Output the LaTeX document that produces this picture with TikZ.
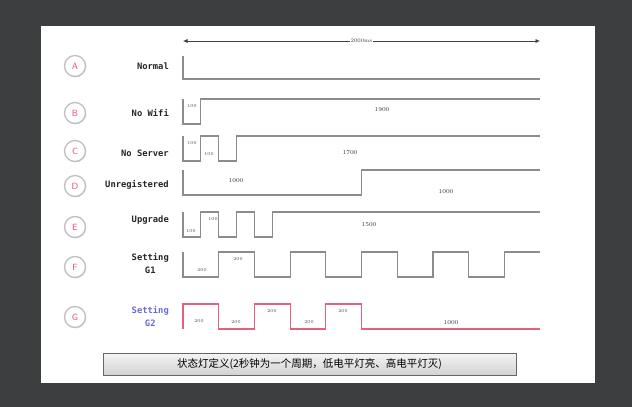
\documentclass[tikz,border=0pt]{standalone}
\usepackage{fontspec}
\newfontfamily\cjk{Noto Sans CJK SC}
\newfontfamily\lblfont{DejaVu Sans Mono}
\usetikzlibrary{arrows.meta,shadows}
\definecolor{panelbg}{HTML}{3C3E40}
\definecolor{wavegray}{HTML}{8C8C8C}
\definecolor{wavered}{HTML}{E2627E}
\definecolor{badgered}{HTML}{E0506E}
\definecolor{lblblue}{HTML}{6A6ADC}

\begin{document}
\begin{tikzpicture}[x=1pt, y=-1pt,
  badge/.style={circle, draw=gray!50, fill=white, line width=1.3pt,
    minimum size=21pt, inner sep=0pt, text=badgered, font=\sffamily\small,
    drop shadow={opacity=0.25, shadow xshift=0.8pt, shadow yshift=-0.8pt}},
  lbl/.style={anchor=east, align=center, inner sep=0pt, text=black!85,
    font=\lblfont\bfseries\fontsize{8.8}{13}\selectfont},
  wave/.style={draw=wavegray, line width=1.2pt},
  ms/.style={font=\fontsize{4.5}{5}\selectfont, inner sep=0pt, text=black!70},
  dur/.style={font=\fontsize{6}{7}\selectfont, inner sep=0pt, text=black!80}]
  \useasboundingbox (0,0) rectangle (632,407);
  \fill[panelbg] (0,0) rectangle (632,407);
  \fill[white] (41,26) rectangle (595,383);

  % one period
  \coordinate (t0) at (183,41);
  \coordinate (t1) at (540,41);
  \draw[{Latex[length=4.5pt,width=4pt]}-{Latex[length=4.5pt,width=4pt]},
    line width=0.7pt, black!75] (t0) --
    node[fill=white, inner xsep=1pt, font=\fontsize{5.5}{6}\selectfont]{2000ms} (t1);

  % states
  \node[badge] (cA) at (75,66) {A};
  \node[badge] (cB) at (75,113) {B};
  \node[badge] (cC) at (75,151) {C};
  \node[badge] (cD) at (75,186) {D};
  \node[badge] (cE) at (75,227) {E};
  \node[badge] (cF) at (75,267) {F};
  \node[badge] (cG) at (75,317) {G};

  \node[lbl] (nA) at (169,66) {Normal};
  \node[lbl] (nB) at (169,113) {No Wifi};
  \node[lbl] (nC) at (169,153) {No Server};
  \node[lbl] (nD) at (169,185) {Unregistered};
  \node[lbl] (nE) at (169,220) {Upgrade};
  \node[lbl] (nF) at (169,263.5) {Setting\\G1};
  \node[lbl, text=lblblue] (nG) at (169,316) {Setting\\G2};

  % waveforms, x in ms
  \begin{scope}[xshift=183pt, x=0.1785pt]
    \draw[wave] (0,56) -- (0,79) -- (2000,79);
    \draw[wave] (0,99) |- (100,124) |- (2000,99);
    \draw[wave] (0,136) |- (100,161) |- (200,136) |- (300,161) |- (2000,136);
    \draw[wave] (0,170) |- (1000,195) |- (2000,170);
    \draw[wave] (0,212) |- (100,237) |- (200,212) |- (300,237) |- (400,212)
      |- (500,237) |- (2000,212);
    \draw[wave] (0,252) |- (200,277) |- (400,252) |- (600,277) |- (800,252)
      |- (1000,277) |- (1200,252) |- (1400,277) |- (1600,252) |- (1800,277)
      |- (2000,252);
    \draw[wave, draw=wavered] (0,329) |- (200,304) |- (400,329) |- (600,304)
      |- (800,329) |- (1000,304) |- (2000,329);
  \end{scope}

  \node[ms] at (192,106) {100};
  \node[dur] at (382,110) {1900};
  \node[ms] at (192,143) {100};
  \node[ms] at (209,154) {100};
  \node[dur] at (350,153) {1700};
  \node[dur] at (236,181) {1000};
  \node[dur] at (446,192) {1000};
  \node[ms] at (191,231) {100};
  \node[ms] at (213,219) {100};
  \node[dur] at (369,225) {1500};
  \node[ms] at (202,270) {200};
  \node[ms] at (238,259) {200};
  \node[ms] at (199,321) {200};
  \node[ms] at (236,322) {200};
  \node[ms] at (272,311) {200};
  \node[ms] at (309,322) {200};
  \node[ms] at (343,311) {200};
  \node[dur] at (451,323) {1000};

  \node[draw=black!60, top color=gray!8, bottom color=gray!35,
    minimum width=413pt, minimum height=22pt, inner sep=0pt,
    font=\cjk\fontsize{10.5}{12}\selectfont] (legend) at (309.5,364)
    {状态灯定义(2秒钟为一个周期，低电平灯亮、高电平灯灭)};
\end{tikzpicture}
\end{document}
